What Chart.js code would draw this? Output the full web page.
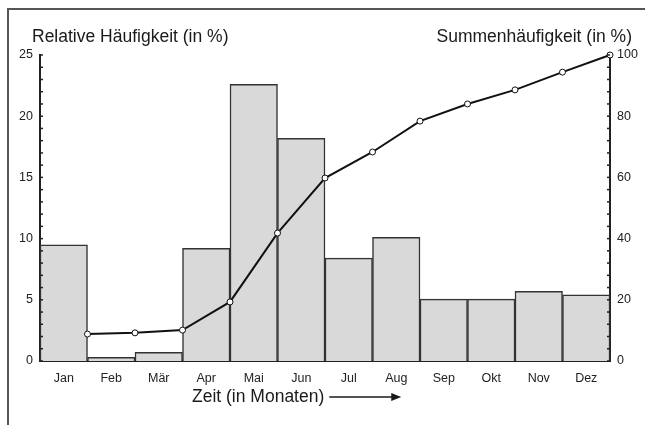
<!DOCTYPE html>
<html>
<head>
<meta charset="utf-8">
<script src="https://cdn.jsdelivr.net/npm/chart.js@4/dist/chart.umd.min.js"></script>
<style>
  html, body { margin: 0; padding: 0; background: #fff; }
  #wrap { width: 645px; height: 425px; }
</style>
</head>
<body>
<div id="wrap"><canvas id="chart"></canvas></div>
<script>
const months = ['Jan', 'Feb', 'Mär', 'Apr', 'Mai', 'Jun', 'Jul', 'Aug', 'Sep', 'Okt', 'Nov', 'Dez'];
// relative frequency per month (%)
const relative = [9.5, 0.3, 0.7, 9.2, 22.6, 18.2, 8.4, 10.1, 5.05, 5.05, 5.7, 5.4];
// cumulative frequency (%) at month ends, x = month boundary
const cumBoundary = [1, 2, 3, 4, 5, 6, 7, 8, 9, 10, 11, 12];
const cumulative = [8.8, 9.2, 10.1, 19.3, 41.8, 59.8, 68.3, 78.4, 84, 88.6, 94.4, 100];

const leftTitle = 'Relative Häufigkeit (in %)';
const rightTitle = 'Summenhäufigkeit (in %)';
const xTitle = 'Zeit (in Monaten)';

const font = "'Liberation Sans', Arial, sans-serif";

// frame, titles, arrow and inward tick marks
const decorations = {
    id: 'decorations',
    beforeDraw(chart) {
        const ctx = chart.ctx;
        ctx.save();
        ctx.strokeStyle = '#555';
        ctx.lineWidth = 2;
        ctx.beginPath();
        ctx.moveTo(8, 425);
        ctx.lineTo(8, 9);
        ctx.lineTo(645, 9);
        ctx.stroke();
        ctx.restore();
    },
    afterDraw(chart) {
        const ctx = chart.ctx;
        const yL = chart.scales.y;
        const yR = chart.scales.y1;
        ctx.save();
        ctx.fillStyle = '#1a1a1a';
        ctx.font = '17.5px ' + font;
        ctx.textBaseline = 'middle';
        ctx.textAlign = 'left';
        ctx.fillText(leftTitle, 32, 37);
        ctx.textAlign = 'right';
        ctx.fillText(rightTitle, 632, 37);
        ctx.textAlign = 'left';
        ctx.fillText(xTitle, 192, 397);
        const w = ctx.measureText(xTitle).width;
        const ax = 192 + w + 5;
        ctx.strokeStyle = '#1a1a1a';
        ctx.lineWidth = 1.5;
        ctx.beginPath();
        ctx.moveTo(ax, 397);
        ctx.lineTo(ax + 64, 397);
        ctx.stroke();
        ctx.beginPath();
        ctx.moveTo(ax + 72, 397);
        ctx.lineTo(ax + 62, 393);
        ctx.lineTo(ax + 62, 401);
        ctx.closePath();
        ctx.fill();

        // inward ticks
        ctx.strokeStyle = '#222';
        ctx.lineWidth = 1.5;
        for (let v = 0; v <= 25; v++) {
            const py = yL.getPixelForValue(v);
            ctx.beginPath();
            ctx.moveTo(yL.right, py);
            ctx.lineTo(yL.right + 3, py);
            ctx.stroke();
        }
        for (let v = 0; v <= 100; v += 4) {
            const py = yR.getPixelForValue(v);
            ctx.beginPath();
            ctx.moveTo(yR.left, py);
            ctx.lineTo(yR.left - 3, py);
            ctx.stroke();
        }
        ctx.restore();
    }
};

new Chart(document.getElementById('chart'), {
    type: 'bar',
    data: {
        labels: months,
        datasets: [
            {
                type: 'line',
                label: rightTitle,
                data: cumBoundary.map((x, i) => ({ x: x, y: cumulative[i] })),
                xAxisID: 'x2',
                yAxisID: 'y1',
                borderColor: '#111',
                borderWidth: 2,
                pointRadius: 3,
                pointBackgroundColor: '#fff',
                pointBorderColor: '#111',
                pointBorderWidth: 1,
                tension: 0,
                clip: false,
                order: 0
            },
            {
                label: leftTitle,
                data: relative,
                xAxisID: 'x',
                yAxisID: 'y',
                backgroundColor: '#d9d9d9',
                borderColor: '#333',
                borderWidth: 1.5,
                barPercentage: 1,
                categoryPercentage: 1,
                grouped: false,
                order: 1
            }
        ]
    },
    options: {
        responsive: true,
        maintainAspectRatio: false,
        animation: false,
        layout: { padding: { top: 55, left: 0, right: 0, bottom: 0 } },
        plugins: {
            legend: { display: false },
            tooltip: { enabled: false }
        },
        scales: {
            x: {
                type: 'category',
                offset: true,
                grid: { display: false, drawTicks: false },
                border: { display: true, color: '#222', width: 2 },
                ticks: { color: '#222', font: { family: font, size: 12.5 }, padding: 10 },
                afterFit(scale) { scale.height = 64; }
            },
            x2: {
                type: 'linear',
                position: 'top',
                min: 0,
                max: 12,
                offset: false,
                grid: { display: false, drawTicks: false },
                border: { display: false },
                ticks: { display: false },
                afterFit(scale) { scale.height = 0; }
            },
            y: {
                position: 'left',
                min: 0,
                max: 25,
                grid: { display: false, drawTicks: false },
                border: { display: true, color: '#222', width: 2 },
                ticks: { stepSize: 5, color: '#222', font: { family: font, size: 12.5 }, padding: 7 },
                afterFit(scale) { scale.width = 40; }
            },
            y1: {
                position: 'right',
                min: 0,
                max: 100,
                grid: { display: false, drawTicks: false },
                border: { display: true, color: '#222', width: 2 },
                ticks: { stepSize: 20, color: '#222', font: { family: font, size: 12.5 }, padding: 7 },
                afterFit(scale) { scale.width = 35; }
            }
        }
    },
    plugins: [decorations]
});
</script>
</body>
</html>
